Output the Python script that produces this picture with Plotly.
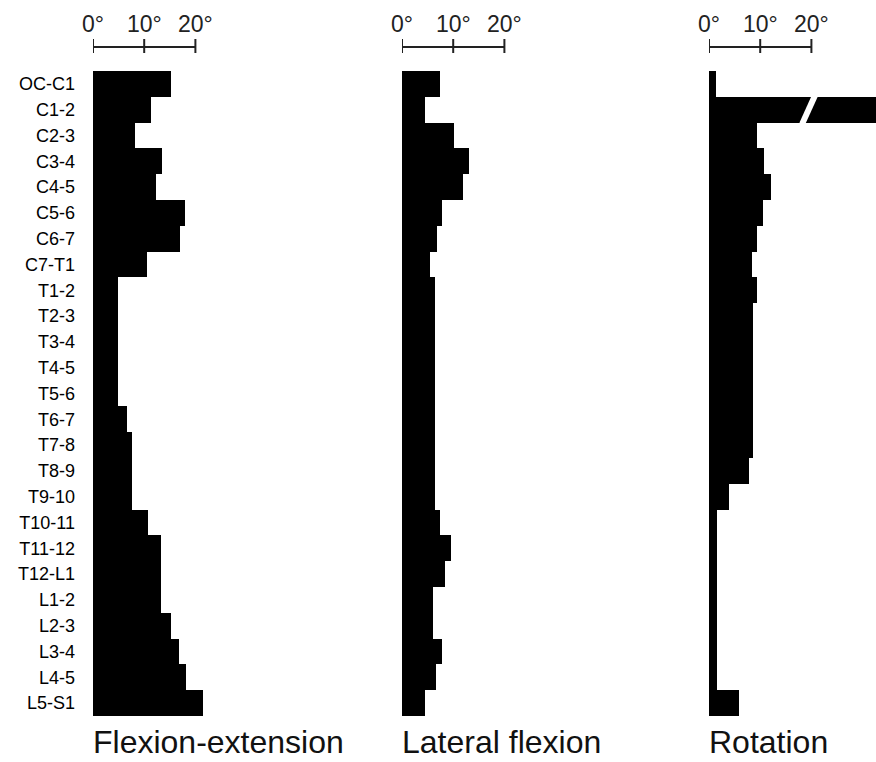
import plotly.graph_objects as go

segments = ["OC-C1", "C1-2", "C2-3", "C3-4", "C4-5", "C5-6", "C6-7", "C7-T1",
            "T1-2", "T2-3", "T3-4", "T4-5", "T5-6", "T6-7", "T7-8", "T8-9",
            "T9-10", "T10-11", "T11-12", "T12-L1", "L1-2", "L2-3", "L3-4",
            "L4-5", "L5-S1"]

flexion_extension = [15.2, 11.3, 8.2, 13.4, 12.3, 18.0, 16.9, 10.5,
                     4.9, 4.9, 4.9, 4.9, 4.9, 6.6, 7.6, 7.6,
                     7.6, 10.8, 13.2, 13.2, 13.2, 15.2, 16.8,
                     18.2, 21.4]

lateral_flexion = [7.4, 4.5, 10.2, 13.1, 11.9, 7.8, 6.9, 5.5,
                   6.4, 6.4, 6.4, 6.4, 6.4, 6.4, 6.4, 6.4,
                   6.4, 7.4, 9.6, 8.3, 6.1, 6.1, 7.8,
                   6.6, 4.5]

rotation = [1.4, 47.0, 9.4, 10.7, 12.2, 10.5, 9.3, 8.3,
            9.3, 8.5, 8.5, 8.5, 8.5, 8.5, 8.5, 7.9,
            4.0, 1.5, 1.5, 1.5, 1.5, 1.5, 1.5,
            1.5, 5.9]

panel_titles = ["Flexion-extension", "Lateral flexion", "Rotation"]
scale_ticks = [0, 10, 20]
scale_labels = ["0°", "10°", "20°"]

W, H = 876, 762
PX_PER_DEG = 5.12
zero_px = [93, 402, 709]
right_px = [263, 572, 876]
top_px, bottom_px = 71, 716

fig = go.Figure()
series = [flexion_extension, lateral_flexion, rotation]
font_family = "Liberation Sans, Arial, Helvetica, sans-serif"

for i, vals in enumerate(series):
    ax = "" if i == 0 else str(i + 1)
    fig.add_trace(go.Bar(
        x=vals, y=segments, orientation="h",
        marker=dict(color="black", line=dict(width=0)),
        xaxis="x" + ax, yaxis="y" + ax, showlegend=False,
        hoverinfo="x+y",
    ))
    dom = [zero_px[i] / W, right_px[i] / W]
    rng = [0, (right_px[i] - zero_px[i]) / PX_PER_DEG]
    fig.update_layout(**{
        "xaxis" + ax: dict(domain=dom, range=rng, visible=False, fixedrange=True),
        "yaxis" + ax: dict(
            domain=[1 - bottom_px / H, 1 - top_px / H],
            range=[len(segments) - 0.5, -0.5],
            type="category",
            anchor="x" + ax,
            showgrid=False, zeroline=False, showline=False,
            ticks="",
            showticklabels=(i == 0),
            ticklabelstandoff=17,
            tickfont=dict(size=18, color="black", family=font_family),
        ),
    })
    # scale bar
    xr = "x" + ax
    y_line = 1 - 47 / H
    fig.add_shape(type="line", xref=xr, yref="paper",
                  x0=scale_ticks[0], x1=scale_ticks[-1], y0=y_line, y1=y_line,
                  line=dict(color="#222", width=2))
    for t, lab in zip(scale_ticks, scale_labels):
        fig.add_shape(type="line", xref=xr, yref="paper",
                      x0=t, x1=t, y0=1 - 53 / H, y1=1 - 39 / H,
                      line=dict(color="#222", width=2))
        fig.add_annotation(x=t, y=1 - 24 / H, xref=xr, yref="paper",
                           text=lab, showarrow=False, xanchor="center",
                           yanchor="middle",
                           font=dict(size=23, color="#222", family=font_family))
    fig.add_annotation(x=(zero_px[i] - 2) / W, y=0, xref="paper",
                       yref="paper", text=panel_titles[i], showarrow=False,
                       xanchor="left", yanchor="bottom",
                       font=dict(size=32, color="#111", family=font_family))

# axis break mark on the C1-2 rotation bar
idx = segments.index("C1-2")
fig.add_shape(type="line", xref="x3", yref="y3",
              x0=18.2, x1=20.7, y0=idx + 0.55, y1=idx - 0.55,
              line=dict(color="white", width=6))

fig.update_layout(
    width=W, height=H,
    margin=dict(l=0, r=0, t=0, b=0),
    paper_bgcolor="white", plot_bgcolor="white",
    bargap=0,
    font=dict(family=font_family, color="black"),
)

fig.write_html("out.html")
